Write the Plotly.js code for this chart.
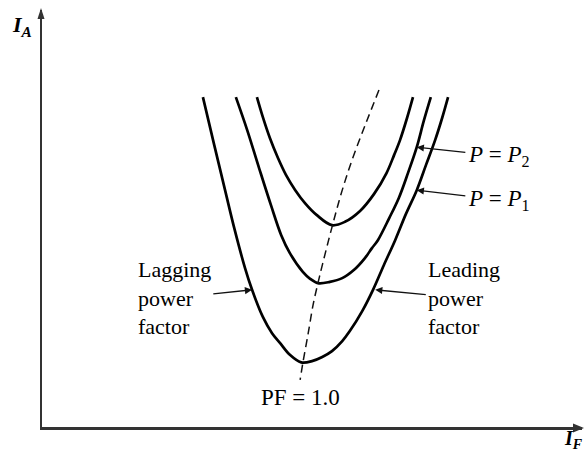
<!DOCTYPE html>
<html>
<head>
<meta charset="utf-8">
<script src="https://cdn.plot.ly/plotly-3.0.1.min.js"></script>
<style>html,body{margin:0;padding:0;background:#fff;}#chart{width:586px;height:455px;}</style>
</head>
<body>
<div id="chart"></div>
<script>
// V-curves of a synchronous motor (armature current I_A vs field current I_F), arbitrary units
const lowIF  = [2.98,3.19,3.39,3.57,3.76,3.89,4.09,4.26,4.41,4.59,4.80,5.00,5.19,5.37,5.56,5.70,5.93,6.13,6.33,6.54,6.74,6.94,7.11,7.28,7.41,7.52];
const lowIA  = [7.91,6.76,5.68,4.72,3.81,3.29,2.64,2.25,2.01,1.73,1.55,1.58,1.68,1.82,2.06,2.30,2.78,3.29,3.88,4.48,5.11,5.68,6.28,6.88,7.41,7.91];

const midIF  = [3.59,3.80,4.02,4.24,4.43,4.59,4.83,4.96,5.11,5.33,5.56,5.78,5.98,6.11,6.22,6.43,6.61,6.78,6.94,7.07,7.20];
const midIA  = [7.91,7.12,6.21,5.32,4.60,4.17,3.72,3.56,3.45,3.48,3.57,3.77,4.05,4.29,4.48,5.01,5.50,6.10,6.71,7.34,7.91];

const highIF = [3.98,4.09,4.22,4.37,4.52,4.69,4.87,5.09,5.37,5.61,5.89,6.15,6.38,6.52,6.63,6.76,6.87];
const highIA = [7.91,7.43,6.93,6.45,6.04,5.68,5.37,5.08,4.84,4.92,5.18,5.59,6.09,6.52,6.88,7.41,7.91];

// unity power factor locus (dashed)
const pfIF = [6.24,6.00,5.76,5.56,5.39,5.20,5.11,5.02,4.93,4.83,4.78];
const pfIA = [8.08,7.29,6.47,5.68,4.89,3.93,3.45,2.93,2.25,1.53,1.13];

const labelLagging = 'Lagging<br>power<br>factor';
const labelLeading = 'Leading<br>power<br>factor';
const labelP2 = '<i>P</i> = <i>P</i><sub>2</sub>';
const labelP1 = '<i>P</i> = <i>P</i><sub>1</sub>';
const labelPF = 'PF = 1.0';
const labelIA = '<b><i>I</i></b><sub><b><i>A</i></b></sub>';
const labelIF = '<b><i>I</i></b><sub><b><i>F</i></b></sub>';

const curveLine = {color:'#000', width:2.7, shape:'spline', smoothing:1};
const traces = [
  {x: lowIF,  y: lowIA,  mode:'lines', line: curveLine, hoverinfo:'skip'},
  {x: midIF,  y: midIA,  mode:'lines', line: curveLine, hoverinfo:'skip'},
  {x: highIF, y: highIA, mode:'lines', line: curveLine, hoverinfo:'skip'},
  {x: pfIF,   y: pfIA,   mode:'lines', line: {color:'#111', width:1.5, dash:'8px,5px', shape:'spline', smoothing:1}, hoverinfo:'skip'}
];

const serif = 'Liberation Serif, Times New Roman, serif';
// text label with a pointer arrow to the curve (x,y = arrow tip on the curve; ax,ay = label centre)
function pointer(text, x, y, ax, ay, size) {
  return {x:x, y:y, ax:ax, ay:ay, axref:'x', ayref:'y', xref:'x', yref:'y', text:text,
          showarrow:true, arrowhead:2, arrowsize:1.1, arrowwidth:1.3, arrowcolor:'#111', standoff:0,
          align:'left', borderpad:2, font:{family:serif, size:size, color:'#000'}};
}
function label(text, x, y, xanchor, yanchor, ref, size) {
  return {x:x, y:y, xref:ref, yref:ref, text:text, showarrow:false, xanchor:xanchor, yanchor:yanchor,
          align:'left', font:{family:serif, size:size, color:'#000'}};
}
const axisStyle = {range:[0,10], showline:true, linecolor:'#333', linewidth:2.5, mirror:false,
                   showgrid:false, zeroline:false, showticklabels:false, ticks:'', fixedrange:true};

const layout = {
  width:586, height:455,
  margin:{l:42, r:4, t:10, b:28, pad:0},
  paper_bgcolor:'#fff', plot_bgcolor:'#fff',
  showlegend:false,
  xaxis:Object.assign({}, axisStyle),
  yaxis:Object.assign({}, axisStyle),
  shapes:[
    // arrowheads at the ends of the two axes
    {type:'path', xref:'paper', yref:'paper', xsizemode:'pixel', ysizemode:'pixel', xanchor:0, yanchor:1,
     path:'M -4.5,-9 L -1,2 L 2.5,-9 Z', fillcolor:'#333', line:{width:0}},
    {type:'path', xref:'paper', yref:'paper', xsizemode:'pixel', ysizemode:'pixel', xanchor:1, yanchor:0,
     path:'M -9,3.5 L 2,-1 L -9,-5.5 Z', fillcolor:'#333', line:{width:0}}
  ],
  annotations:[
    pointer(labelLagging, 3.89, 3.29, 2.45, 3.09, 22),
    pointer(labelLeading, 6.17, 3.29, 7.82, 3.09, 22),
    pointer(labelP2, 6.94, 6.71, 8.46, 6.50, 23),
    pointer(labelP1, 6.94, 5.68, 8.46, 5.45, 23),
    label(labelPF, 4.78, 0.71, 'center', 'middle', 'x', 23),
    label(labelIA, -0.037, 0.999, 'center', 'top', 'paper', 22),
    label(labelIF, 1.006, -0.064, 'right', 'bottom', 'paper', 20)
  ]
};

Plotly.newPlot('chart', traces, layout, {staticPlot:true, displayModeBar:false});
</script>
</body>
</html>
